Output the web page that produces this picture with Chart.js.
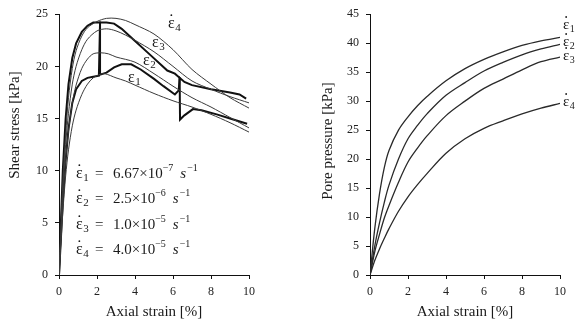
<!DOCTYPE html>
<html>
<head>
<meta charset="utf-8">
<script src="https://cdn.jsdelivr.net/npm/chart.js@4.4.0/dist/chart.umd.min.js"></script>
<style>
  html, body { margin: 0; padding: 0; background: #fff; }
  #wrap { position: relative; width: 577px; height: 324px; overflow: hidden; }
  canvas { position: absolute; top: 0; }
</style>
</head>
<body>
<div id="wrap">
  <canvas id="shearChart" width="288" height="324" style="left:0"></canvas>
  <canvas id="poreChart" width="289" height="324" style="left:288px"></canvas>
</div>
<script>
// ---- shear stress, constant rate tests (thin lines) ----
var strainS1 = [0, 0.1, 0.2, 0.35, 0.5, 0.7, 0.9, 1.2, 1.5, 1.8, 2.1, 2.4, 3, 3.5, 4, 5, 6, 7, 8, 9, 10];
var shearS1 = [0, 3, 6, 9.5, 12, 14.3, 15.8, 17.3, 18.3, 18.9, 19.2, 19.3, 18.9, 18.6, 18.2, 17.4, 16.7, 16.1, 15.4, 14.6, 13.7];

var strainS2 = [0, 0.1, 0.2, 0.35, 0.5, 0.7, 0.9, 1.2, 1.5, 1.8, 2.2, 2.6, 3, 4, 5, 6, 7, 8, 9, 10];
var shearS2 = [0, 3.5, 7, 11, 13.8, 16.5, 18.2, 19.8, 20.7, 21.2, 21.3, 21.2, 20.9, 20.4, 19.3, 18.1, 17.0, 16.1, 15.1, 14.1];

var strainS3 = [0, 0.1, 0.2, 0.35, 0.5, 0.7, 0.9, 1.2, 1.5, 2, 2.5, 3, 3.5, 4, 5, 6, 7, 8, 9, 10];
var shearS3 = [0, 4, 8, 12.5, 15.5, 18.3, 20, 21.6, 22.6, 23.4, 23.6, 23.4, 23, 22.5, 21.4, 20.0, 18.6, 17.8, 17.1, 16.5];

var strainS4 = [0, 0.1, 0.2, 0.35, 0.5, 0.7, 0.9, 1.2, 1.5, 2, 2.5, 3, 3.5, 4, 5, 6, 7, 8, 9, 10];
var shearS4 = [0, 4.5, 9, 13.5, 17, 19.8, 21.5, 22.9, 23.7, 24.3, 24.6, 24.6, 24.4, 24.0, 23.1, 21.6, 19.7, 18.3, 17.0, 16.0];

// ---- shear stress, rate change tests (thick lines) ----
var strainStepA = [0, 0.1, 0.2, 0.35, 0.5, 0.7, 0.9, 1.2, 1.5, 1.8, 2.16, 2.16, 2.5, 2.9, 3.3, 3.8, 4.3, 5, 5.5, 6.1, 6.3, 6.35, 6.6, 7, 8, 9, 9.5, 9.85];
var shearStepA = [0, 5, 10, 15, 18.3, 20.8, 22.2, 23.3, 23.9, 24.2, 24.2, 19.2, 19.4, 19.9, 20.2, 20.2, 19.7, 18.8, 18.1, 17.3, 17.7, 18.9, 18.5, 18.2, 17.8, 17.5, 17.3, 16.9];

var strainStepB = [0, 0.1, 0.2, 0.35, 0.5, 0.7, 0.9, 1.2, 1.5, 1.8, 2.1, 2.16, 2.5, 2.9, 3.3, 3.9, 4.8, 5.7, 6.1, 6.35, 6.37, 6.6, 7.05, 7.5, 8.3, 9, 9.9];
var shearStepB = [0, 3.5, 7, 11, 14, 16.5, 17.8, 18.6, 18.9, 19.0, 19.1, 24.2, 24.2, 24.1, 23.6, 22.6, 21.1, 19.6, 19.3, 18.9, 14.9, 15.3, 15.9, 15.8, 15.4, 15.0, 14.5];

// ---- pore pressure ----
var strainPore = [0, 0.25, 0.5, 0.75, 1, 1.5, 2, 2.5, 3, 4, 5, 6, 7, 8, 9, 10];
var poreP1 = [0, 8, 14, 18.5, 21.5, 25, 27.3, 29.2, 30.8, 33.5, 35.6, 37.2, 38.5, 39.6, 40.4, 41.0];
var poreP2 = [0, 5, 9, 12.5, 15.5, 20, 23.5, 25.8, 27.8, 31, 33.2, 35.2, 36.7, 38, 39, 39.8];
var poreP3 = [0, 4, 7, 9.8, 12, 16, 19.5, 21.9, 24, 27.5, 30, 32.2, 33.8, 35.4, 36.8, 37.6];
var poreP4 = [0, 2.5, 4.5, 6.3, 8, 11, 13.5, 15.6, 17.5, 21, 23.5, 25.3, 26.6, 27.8, 28.8, 29.6];

// ---- labels ----
var rateSubs = ['1', '2', '3', '4'];
var rateMantissa = ['6.67', '2.5', '1.0', '4.0'];
var rateExponent = ['\u22127', '\u22126', '\u22125', '\u22125'];

var serif = '"Liberation Serif", "Times New Roman", serif';

function pairs(xs, ys) {
    return xs.map(function (x, i) { return { x: x, y: ys[i] }; });
}

function thin(xs, ys) {
    return { data: pairs(xs, ys), borderColor: '#3a3a3a', borderWidth: 1, tension: 0.3 };
}

function thick(xs, ys) {
    return { data: pairs(xs, ys), borderColor: '#111', borderWidth: 2, tension: 0 };
}

// epsilon with optional dot and subscript, returns x after it
function drawEps(ctx, x, y, sub, size, dot) {
    ctx.font = size + 'px ' + serif;
    ctx.fillText('\u03b5', x, y);
    var w = ctx.measureText('\u03b5').width;
    if (dot) {
        ctx.beginPath();
        ctx.arc(x + w * 0.5, y - size * 0.8, 0.9, 0, 2 * Math.PI);
        ctx.fill();
    }
    ctx.font = Math.round(size * 0.68) + 'px ' + serif;
    ctx.fillText(sub, x + w + 0.5, y + size * 0.2);
    return x + w + 0.5 + ctx.measureText(sub).width;
}

function yTitle(ctx, text, x, y) {
    ctx.save();
    ctx.translate(x, y);
    ctx.rotate(-Math.PI / 2);
    ctx.font = '15px ' + serif;
    ctx.textAlign = 'center';
    ctx.textBaseline = 'middle';
    ctx.fillText(text, 0, 0);
    ctx.restore();
}

function xTitle(ctx, text, x, y) {
    ctx.save();
    ctx.font = '15px ' + serif;
    ctx.textAlign = 'center';
    ctx.textBaseline = 'middle';
    ctx.fillText(text, x, y);
    ctx.restore();
}

var shearLabels = {
    id: 'shearLabels',
    afterDraw: function (chart) {
        var ctx = chart.ctx;
        var area = chart.chartArea;
        ctx.save();
        ctx.fillStyle = '#1a1a1a';
        ctx.textBaseline = 'alphabetic';
        yTitle(ctx, 'Shear stress [kPa]', 15, 125);
        xTitle(ctx, 'Axial strain [%]', (area.left + area.right) / 2, 312);

        // curve labels
        drawEps(ctx, 168, 28, '4', 16, true);
        drawEps(ctx, 152, 47, '3', 16, false);
        drawEps(ctx, 143, 65, '2', 16, false);
        drawEps(ctx, 128, 82, '1', 16, false);

        // rate legend
        var baselines = [178, 203, 229, 254];
        for (var i = 0; i < 4; i++) {
            var b = baselines[i];
            drawEps(ctx, 76, b, rateSubs[i], 16, true);
            ctx.font = '15px ' + serif;
            ctx.fillText('=', 95, b);
            ctx.fillText(rateMantissa[i] + '\u00d710', 113, b);
            var xe = 113 + ctx.measureText(rateMantissa[i] + '\u00d710').width;
            ctx.font = '10px ' + serif;
            ctx.fillText(rateExponent[i], xe, b - 7);
            var xs = xe + ctx.measureText(rateExponent[i]).width + 7;
            ctx.font = 'italic 15px ' + serif;
            ctx.fillText('s', xs, b);
            var x1 = xs + ctx.measureText('s').width + 1;
            ctx.font = '10px ' + serif;
            ctx.fillText('\u22121', x1, b - 7);
        }
        ctx.restore();
    }
};

var poreLabels = {
    id: 'poreLabels',
    afterDraw: function (chart) {
        var ctx = chart.ctx;
        var area = chart.chartArea;
        ctx.save();
        ctx.fillStyle = '#1a1a1a';
        yTitle(ctx, 'Pore pressure [kPa]', 40, 141);
        xTitle(ctx, 'Axial strain [%]', (area.left + area.right) / 2, 312);
        drawEps(ctx, 275, 29, '1', 15, true);
        drawEps(ctx, 275, 46, '2', 15, true);
        drawEps(ctx, 275, 60, '3', 15, true);
        drawEps(ctx, 275, 106, '4', 15, true);
        ctx.restore();
    }
};

function axes(yMax, yStep, yWidth) {
    var tickFont = { family: serif, size: 12 };
    var grid = { display: true, drawOnChartArea: false, drawTicks: true, tickLength: 4, color: '#111' };
    var border = { display: true, color: '#111', width: 1 };
    return {
        x: {
            type: 'linear', min: 0, max: 10,
            ticks: { stepSize: 2, font: tickFont, color: '#222', padding: 6, maxRotation: 0 },
            grid: grid, border: border,
            afterFit: function (scale) { scale.height = 49; }
        },
        y: {
            type: 'linear', min: 0, max: yMax,
            ticks: { stepSize: yStep, font: tickFont, color: '#222', padding: 7 },
            grid: grid, border: border,
            afterFit: function (scale) { scale.width = yWidth; }
        }
    };
}

function baseOptions(yMax, yStep, yWidth, rightPad) {
    return {
        responsive: false,
        animation: false,
        devicePixelRatio: 1,
        layout: { padding: { left: 0, right: rightPad, top: 12, bottom: 0 } },
        elements: { point: { radius: 0 } },
        plugins: { legend: { display: false }, tooltip: { enabled: false } },
        scales: axes(yMax, yStep, yWidth)
    };
}

var shearSets = [
    thin(strainS1, shearS1),
    thin(strainS2, shearS2),
    thin(strainS3, shearS3),
    thin(strainS4, shearS4),
    thick(strainStepA, shearStepA),
    thick(strainStepB, shearStepB)
];
shearSets.forEach(function (d) { d.showLine = true; d.pointRadius = 0; });

new Chart(document.getElementById('shearChart').getContext('2d'), {
    type: 'scatter',
    data: { datasets: shearSets },
    options: baseOptions(25, 5, 59, 39),
    plugins: [shearLabels]
});

var poreSets = [poreP1, poreP2, poreP3, poreP4].map(function (p) {
    return { data: pairs(strainPore, p), showLine: true, pointRadius: 0, borderColor: '#2a2a2a', borderWidth: 1.3, tension: 0.35 };
});

new Chart(document.getElementById('poreChart').getContext('2d'), {
    type: 'scatter',
    data: { datasets: poreSets },
    options: baseOptions(45, 5, 82, 17),
    plugins: [poreLabels]
});
</script>
</body>
</html>
